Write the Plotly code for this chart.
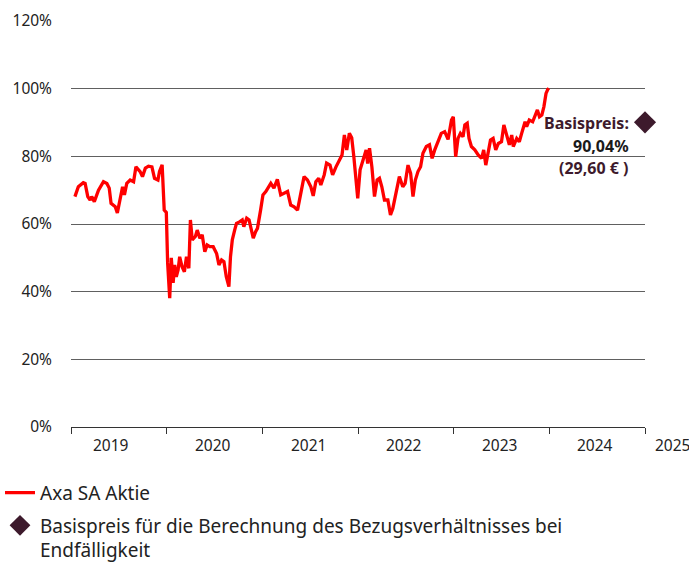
import plotly.graph_objects as go

# ---- data ----
dates = [
    "2019-01-16","2019-01-29","2019-02-17","2019-02-24","2019-03-06","2019-03-15","2019-03-21","2019-03-31",
    "2019-04-16","2019-05-05","2019-05-18","2019-05-27","2019-06-03","2019-06-19","2019-06-27","2019-07-08",
    "2019-07-17","2019-07-24","2019-08-02","2019-08-15","2019-08-28","2019-09-06","2019-09-22","2019-10-01",
    "2019-10-12","2019-10-24","2019-11-06","2019-11-16","2019-11-29","2019-12-05","2019-12-15","2019-12-23",
    "2019-12-31","2020-01-05","2020-01-13","2020-01-19","2020-01-26","2020-02-01","2020-02-07","2020-02-14",
    "2020-02-20","2020-02-29","2020-03-09","2020-03-17","2020-03-26","2020-04-01","2020-04-08","2020-04-20",
    "2020-04-27","2020-05-07","2020-05-16","2020-05-26","2020-06-04","2020-06-14","2020-06-27","2020-07-10",
    "2020-07-19","2020-07-29","2020-08-07","2020-08-16","2020-08-26","2020-09-01","2020-09-08","2020-09-17",
    "2020-09-24","2020-10-07","2020-10-16","2020-10-22","2020-11-02","2020-11-11","2020-11-20","2020-11-27",
    "2020-12-06","2020-12-13","2020-12-25","2021-01-03","2021-01-14","2021-02-02","2021-02-14","2021-02-27",
    "2021-03-12","2021-03-25","2021-04-07","2021-04-19","2021-05-02","2021-05-15","2021-05-28","2021-06-09",
    "2021-06-22","2021-07-05","2021-07-14","2021-07-24","2021-08-04","2021-08-12","2021-08-25","2021-09-03",
    "2021-09-16","2021-09-26","2021-10-09","2021-10-19","2021-11-01","2021-11-10","2021-11-19","2021-11-29",
    "2021-12-08","2021-12-16","2021-12-24","2021-12-31","2022-01-09","2022-01-19","2022-01-23","2022-02-01",
    "2022-02-07","2022-02-14","2022-02-23","2022-03-05","2022-03-15","2022-03-24","2022-04-02","2022-04-12",
    "2022-04-25","2022-05-05","2022-05-14","2022-05-27","2022-06-08","2022-06-21","2022-06-30","2022-07-11",
    "2022-07-21","2022-07-30","2022-08-08","2022-08-18","2022-08-28","2022-09-06","2022-09-19","2022-10-01",
    "2022-10-11","2022-10-21","2022-11-03","2022-11-15","2022-11-28","2022-12-11","2022-12-24","2022-12-31",
    "2023-01-09","2023-01-18","2023-01-27","2023-02-06","2023-02-13","2023-02-22","2023-03-01","2023-03-10",
    "2023-03-23","2023-04-05","2023-04-18","2023-04-26","2023-05-04","2023-05-13","2023-05-22","2023-06-01",
    "2023-06-11","2023-06-21","2023-07-03","2023-07-12","2023-07-22","2023-08-02","2023-08-11","2023-08-17",
    "2023-08-30","2023-09-09","2023-09-18","2023-10-01","2023-10-07","2023-10-17","2023-10-30","2023-11-08",
    "2023-11-17","2023-11-25","2023-12-04","2023-12-12","2023-12-20","2023-12-27","2023-12-31",
]
axa_pct = [
    68.1, 71.0, 72.2, 72.0, 68.1, 67.1, 68.1, 66.6,
    70.0, 72.5, 72.0, 70.6, 66.1, 65.1, 63.3, 68.1,
    71.0, 68.6, 72.0, 73.0, 72.5, 76.9, 75.5, 74.0,
    76.5, 77.1, 76.9, 73.5, 73.0, 75.5, 77.5, 64.1,
    63.4, 48.5, 38.1, 50.0, 42.6, 47.9, 44.4, 46.4,
    50.3, 47.4, 45.9, 50.3, 46.9, 61.2, 55.3, 56.3,
    58.2, 55.8, 56.8, 51.8, 53.8, 53.3, 53.3, 51.3,
    47.9, 49.4, 48.9, 44.4, 41.5, 50.3, 55.3, 58.2,
    60.2, 60.7, 61.2, 59.2, 61.7, 61.2, 58.2, 55.8,
    57.7, 58.7, 64.1, 68.6, 69.6, 72.0, 70.6, 73.2,
    68.6, 69.1, 69.6, 65.6, 65.1, 64.1, 69.1, 74.0,
    73.0, 71.0, 68.3, 72.5, 73.5, 71.5, 74.5, 78.0,
    77.4, 74.5, 76.9, 78.4, 80.4, 86.3, 81.9, 86.8,
    85.5, 80.0, 74.0, 67.6, 76.0, 78.9, 79.4, 81.9,
    77.9, 82.4, 76.9, 68.1, 73.0, 73.5, 71.0, 67.1,
    67.1, 62.7, 64.6, 69.1, 74.0, 71.0, 72.0, 77.4,
    75.0, 68.1, 73.0, 75.5, 76.9, 80.9, 82.9, 83.4,
    79.4, 81.9, 84.3, 86.8, 87.3, 85.0, 90.7, 91.7,
    79.9, 85.3, 86.8, 85.8, 89.3, 89.8, 85.3, 82.9,
    81.9, 80.4, 79.4, 81.9, 77.4, 81.9, 84.8, 85.3,
    81.9, 83.8, 84.3, 89.3, 86.3, 83.4, 86.3, 82.9,
    85.3, 84.3, 86.8, 90.2, 88.8, 90.7, 90.2, 91.7,
    93.7, 91.7, 92.2, 94.7, 98.6, 99.8, 100.1,
]
basis_date = ["2025-01-01"]
basis_pct = [90.04]
basis_price_text = "29,60 €"
year_labels = ["2019", "2020", "2021", "2022", "2023", "2024", "2025"]
y_ticks = [0, 20, 40, 60, 80, 100, 120]
y_tick_text = [f"{v}%" for v in y_ticks]

FONT = "Noto Sans"
TXT = "#222222"
MAROON = "#3d1a2c"

fig = go.Figure()
fig.add_trace(go.Scatter(
    x=dates, y=axa_pct, mode="lines", name="Axa SA Aktie", legendgroup="a",
    line=dict(color="#ff0000", width=3.3), hoverinfo="skip",
))
fig.add_trace(go.Scatter(
    x=basis_date, y=basis_pct, mode="markers", legendgroup="b",
    name="Basispreis für die Berechnung des Bezugsverhältnisses bei<br>Endfälligkeit",
    marker=dict(symbol="diamond", size=17, color=MAROON), cliponaxis=False,
))

annotations = []
for i, yl in enumerate(year_labels):
    last = i == len(year_labels) - 1
    annotations.append(dict(
        x=f"{yl}-01-01" if last else f"{yl}-06-25", xref="x",
        y=0, yref="paper", yanchor="top", yshift=-5,
        xanchor="left" if last else "center",
        xshift=8 if last else (-6 if i == 0 else 0),
        text=yl, showarrow=False, font=dict(family=FONT, size=15.5, color=TXT),
    ))

label_lines = [
    ("Basispreis:", MAROON),
    (f"{basis_pct[0]:.2f}%".replace(".", ","), "#1a1a1a"),
    (f"({basis_price_text} )", MAROON),
]
for k, (t, c) in enumerate(label_lines):
    annotations.append(dict(
        x=basis_date[0], xref="x", y=basis_pct[0], yref="y",
        xanchor="right", xshift=-14, yshift=-1 - 22.5 * k,
        text=f"<b>{t}</b>", showarrow=False,
        font=dict(family=FONT, size=16, color=c),
    ))

fig.update_layout(
    width=689, height=566,
    margin=dict(l=71, r=44, t=21, b=139, autoexpand=False),
    paper_bgcolor="white", plot_bgcolor="white",
    font=dict(family=FONT, color=TXT),
    showlegend=True,
    legend=dict(
        xref="container", yref="container", x=0.0, y=0.163,
        xanchor="left", yanchor="top", valign="top",
        font=dict(family=FONT, size=19, color=TXT),
        itemwidth=30, tracegroupgap=5, bgcolor="rgba(0,0,0,0)",
    ),
    xaxis=dict(
        type="date", range=["2019-01-01", "2025-01-01"],
        tickmode="array", tickvals=[f"{y}-01-01" for y in year_labels],
        showticklabels=False, ticks="outside", ticklen=6, tickcolor="#333",
        showline=True, linecolor="#333", linewidth=1.3,
        showgrid=False, zeroline=False,
    ),
    yaxis=dict(
        range=[0, 120], tickmode="array", tickvals=y_ticks, ticktext=y_tick_text,
        showgrid=True, gridcolor="#606060", gridwidth=1,
        zeroline=False, showline=False,
        ticks="", ticklabelstandoff=18,
        tickfont=dict(family=FONT, size=15.5, color=TXT),
    ),
    annotations=annotations,
)

fig.write_html("out.html")
